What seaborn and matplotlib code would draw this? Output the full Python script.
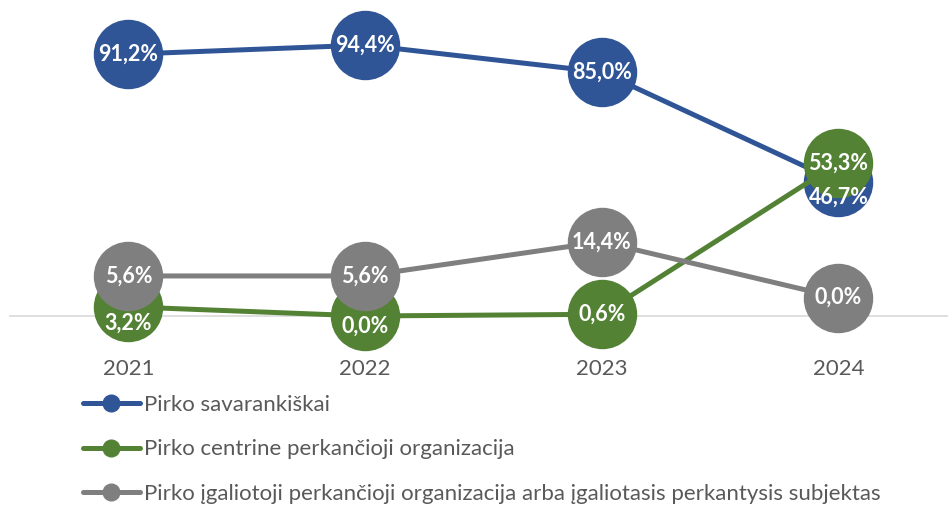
import numpy as np
import pandas as pd
import matplotlib
matplotlib.use("Agg")
from matplotlib import pyplot as plt
from matplotlib.lines import Line2D
import seaborn as sns

# chart data
years = ["2021", "2022", "2023", "2024"]
savarankiskai = [91.2, 94.4, 85.0, 46.7]
centrine = [3.2, 0.0, 0.6, 53.3]
igaliotoji = [5.6, 5.6, 14.4, 0.0]
series_names = [
    "Pirko savarankiškai",
    "Pirko centrine perkančioji organizacija",
    "Pirko įgaliotoji perkančioji organizacija arba įgaliotasis perkantysis subjektas",
]

BLUE = "#2F5597"
GREEN = "#548235"
GRAY = "#7F7F7F"
TEXT = "#595959"

sns.set_style("white")
plt.rcParams["font.family"] = ["Lato", "DejaVu Sans"]

fig = plt.figure(figsize=(9.48, 5.07), dpi=100)
W, H = 948, 507
ax = fig.add_axes([10 / W, (H - 316) / H, (W - 10) / W, 316 / H])
ax2 = ax.twinx()

pos = np.arange(len(years))
df = pd.DataFrame({"pos": pos, "sav": savarankiskai, "cen": centrine, "iga": igaliotoji})

line_kw = dict(marker="o", markersize=50, linewidth=3.6, markeredgewidth=0, clip_on=False)
sns.lineplot(data=df, x="pos", y="sav", color=BLUE, ax=ax, zorder=3, **line_kw)
sns.lineplot(data=df, x="pos", y="cen", color=GREEN, ax=ax, zorder=4, **line_kw)
sns.lineplot(data=df, x="pos", y="iga", color=GRAY, ax=ax2, zorder=3, **line_kw)

ax.set_xlim(-0.5, 3.463)
ax.set_ylim(0, 110.1)
ax2.set_ylim(-4.72, 76.7)

for a in (ax, ax2):
    a.set_xlabel("")
    a.set_ylabel("")
    a.set_yticks([])
    for s in a.spines.values():
        s.set_visible(False)
ax.spines["bottom"].set_visible(True)
ax.spines["bottom"].set_color("#D9D9D9")
ax.spines["bottom"].set_linewidth(1.2)
ax.set_xticks(pos)
ax.set_xticklabels(years, fontsize=16, color=TEXT)
ax.tick_params(axis="x", length=0, pad=31)

# data labels (vertical nudges in points, as placed in the original)
lab_kw = dict(textcoords="offset points", ha="center", va="center",
              color="white", fontsize=15.5, fontweight="bold", zorder=10,
              annotation_clip=False)
nudge_sav = [0, 0, 0, -10.8]
nudge_cen = [-11.5, -7, 0, 0]
for i in pos:
    ax2.annotate(f"{savarankiskai[i]:.1f}%".replace(".", ","), (i, savarankiskai[i]),
                 xycoords=ax.transData, xytext=(0, nudge_sav[i]), **lab_kw)
    ax2.annotate(f"{centrine[i]:.1f}%".replace(".", ","), (i, centrine[i]),
                 xycoords=ax.transData, xytext=(0, nudge_cen[i]), **lab_kw)
    ax2.annotate(f"{igaliotoji[i]:.1f}%".replace(".", ","), (i, igaliotoji[i]),
                 xycoords="data", xytext=(0, 0), **lab_kw)

handles = [Line2D([], [], color=c, linewidth=3.6, marker="o", markersize=12)
           for c in (BLUE, GREEN, GRAY)]
leg = fig.legend(handles, series_names, loc="upper left",
                 bbox_to_anchor=(74 / W, 1 - 386 / H), frameon=False,
                 fontsize=16, handlelength=2.55, handletextpad=0.18,
                 labelspacing=1.1, borderaxespad=0)
for t in leg.get_texts():
    t.set_color(TEXT)

fig.savefig("out.png", dpi=100)
